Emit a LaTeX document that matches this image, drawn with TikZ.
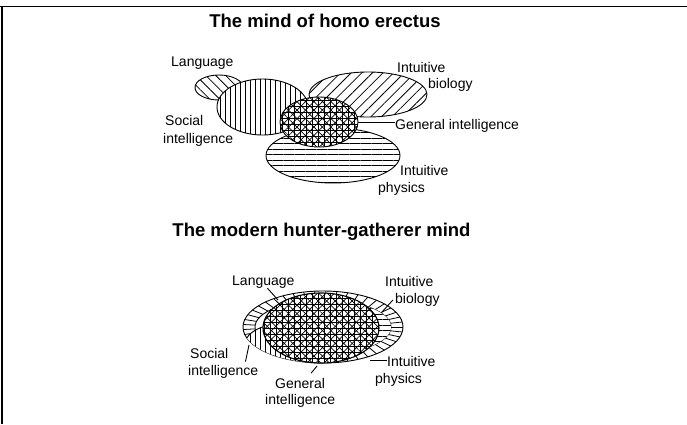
\documentclass[tikz,border=0pt]{standalone}
\usepackage{fontspec}
\setmainfont{Liberation Sans}
\usetikzlibrary{patterns.meta,shapes.geometric}
\begin{document}
\begin{tikzpicture}[x=1pt,y=-1pt,
  lab/.style={font=\fontsize{14}{17}\selectfont, inner sep=0pt},
  ttl/.style={font=\fontsize{18.5}{22}\selectfont\bfseries, inner sep=0pt},
  ell/.style={ellipse, draw=black, line width=0.9pt, inner sep=0pt},
  hV/.style={fill=white, postaction={pattern={Lines[angle=90,distance=5pt,line width=0.8pt]}}},
  hH/.style={fill=white, postaction={pattern={Lines[angle=0,distance=5.5pt,line width=0.8pt]}}},
  hNE/.style={fill=white, postaction={pattern={Lines[angle=45,distance=7.5pt,line width=0.8pt]}}},
  hNW/.style={fill=white, postaction={pattern={Lines[angle=-45,distance=7pt,line width=0.8pt]}}},
  hX/.style={fill=white,
    postaction={pattern={Lines[angle=0,distance=6pt,line width=0.8pt]}},
    postaction={pattern={Lines[angle=90,distance=6pt,line width=0.8pt]}},
    postaction={pattern={Lines[angle=45,distance=6pt,line width=0.7pt]}},
    postaction={pattern={Lines[angle=-45,distance=6pt,line width=0.7pt]}}},
  leader/.style={line width=0.9pt}
]
\useasboundingbox (0,0) rectangle (687,424);
% frame
\draw[line width=1.8pt] (0,6.5) -- (687,6.5);
\draw[line width=2pt] (2,6.5) -- (2,424);

% ---------- top diagram ----------
\node[ttl] (ttitle) at (325,21) {The mind of homo erectus};

\node[ell, hNW, minimum width=48pt, minimum height=25pt] (tlang) at (219,87.5) {};
\node[ell, hV, minimum width=91pt, minimum height=56pt] (tsoc) at (262.5,107) {};
\node[ell, hNE, minimum width=118pt, minimum height=45pt] (tbio) at (368,94.5) {};
\node[ell, hH, minimum width=134pt, minimum height=55pt] (tphy) at (333,155.5) {};
\node[ell, hX, minimum width=78pt, minimum height=50pt] (tgi) at (319,122) {};

\node[lab, anchor=base west] (tlanglab) at (171,66.5) {Language};
\node[lab, anchor=base west] (tbio1) at (397,72) {Intuitive};
\node[lab, anchor=base west] (tbio2) at (428,88) {biology};
\node[lab, anchor=base west] (tsoc1) at (165,125) {Social};
\node[lab, anchor=base west] (tsoc2) at (163,143) {intelligence};
\node[lab, anchor=base west] (tgen) at (395,129.5) {General intelligence};
\node[lab, anchor=base west] (tphy1) at (400,175.5) {Intuitive};
\node[lab, anchor=base west] (tphy2) at (378,192) {physics};

\draw[leader] (tgi.east) -- (tgi.east -| tgen.west);

% ---------- bottom diagram ----------
\node[ttl] (btitle) at (321.5,232) {The modern hunter-gatherer mind};

\node[ell, fill=white, minimum width=160pt, minimum height=72pt] (bout) at (323,327) {};
\foreach \t in {0,8,...,352}
  \draw[line width=0.8pt] ({323+68*cos(\t)},{327+27*sin(\t)}) -- ({323+80*cos(\t)},{327+36*sin(\t)});
\node[ell, fill=white, minimum width=136pt, minimum height=54pt] (bin) at (323,327) {};
\begin{scope}
  \clip (323,327) ellipse [x radius=80pt, y radius=36pt];
  \node[ell, hV, minimum width=84pt, minimum height=42pt] (bsoc) at (287,344) {};
\end{scope}
\begin{scope}
  \clip (323,327) ellipse [x radius=68pt, y radius=27pt];
  \node[ell, hH, minimum width=94pt, minimum height=52pt] (bphy) at (350,330) {};
\end{scope}
\node[ell, hX, line width=1.1pt, minimum width=116pt, minimum height=70pt] (bgi) at (321,328) {};

\node[lab, anchor=base west] (blanglab) at (232,285) {Language};
\node[lab, anchor=base west] (bbio1) at (385,286.5) {Intuitive};
\node[lab, anchor=base west] (bbio2) at (395,303.5) {biology};
\node[lab, anchor=base west] (bsoc1) at (190,358.5) {Social};
\node[lab, anchor=base west] (bsoc2) at (188,375) {intelligence};
\node[lab, anchor=base west] (bgen1) at (275,388.5) {General};
\node[lab, anchor=base west] (bgen2) at (265,404.5) {intelligence};
\node[lab, anchor=base west] (bphy1) at (387,366.5) {Intuitive};
\node[lab, anchor=base west] (bphy2) at (375,383) {physics};

\coordinate (blangtip) at (278,300);
\coordinate (bbiotip) at (382,312);
\coordinate (bsoctip) at (249,345);
\coordinate (bgentip) at (317,366);
\coordinate (bphytip) at (370,360);

\draw[leader] ([xshift=4pt]blanglab.south) -- (blangtip);
\draw[leader] ([xshift=-2pt]bbio2.west) -- (bbiotip);
\draw[leader] ([xshift=-13pt,yshift=3pt]bsoc2.north east) -- (bsoctip);
\draw[leader] ([xshift=11pt,yshift=5pt]bgen1.north) -- (bgentip);
\draw[leader] (bphytip) -- (bphytip -| bphy1.west);
\end{tikzpicture}
\end{document}
